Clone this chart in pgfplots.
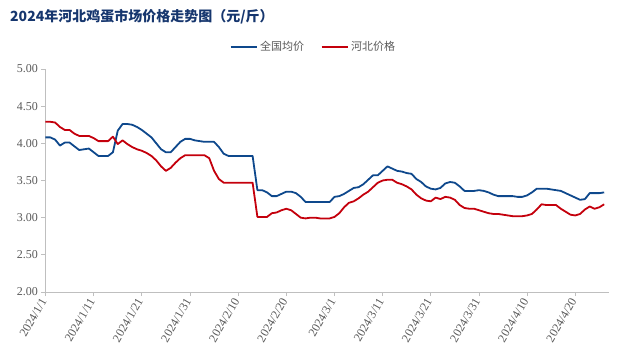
\documentclass[border=0pt]{standalone}
\usepackage{pgfplots}
\pgfplotsset{compat=1.18}
\usepackage{fontspec}
\setmainfont{Liberation Serif}
\newfontfamily\cjk{Noto Sans CJK SC}
\definecolor{cblue}{RGB}{14,72,140}
\definecolor{cred}{RGB}{196,0,12}
\definecolor{ctitle}{RGB}{22,54,110}
\definecolor{caxis}{RGB}{191,191,191}
\definecolor{ctext}{RGB}{89,89,89}
\begin{document}
\begin{tikzpicture}
\begin{axis}[
  scale only axis,
  width=563.5pt, height=223pt,
  at={(0,0)}, anchor=south west,
  xmin=0, xmax=117,
  ymin=2, ymax=5,
  axis x line=bottom, axis y line=left,
  axis line style={caxis, line width=0.8pt, -},
  tick style={caxis, line width=0.8pt},
  tick align=outside,
  major tick length=4pt,
  xtick={0,10,...,110},
  xticklabels={2024/1/1,2024/1/11,2024/1/21,2024/1/31,2024/2/10,2024/2/20,2024/3/1,2024/3/11,2024/3/21,2024/3/31,2024/4/10,2024/4/20},
  x tick label style={rotate=60, anchor=east, font=\fontsize{12}{12}\selectfont, text=ctext},
  ytick={2,2.5,3,3.5,4,4.5,5},
  y tick label style={font=\fontsize{12}{12}\selectfont, text=ctext},
  yticklabel style={/pgf/number format/fixed, /pgf/number format/precision=2, /pgf/number format/fixed zerofill},
  /pgf/number format/assume math mode=true,
  legend style={at={(0.475,1.099)}, anchor=center, draw=none, fill=none,
    font=\cjk\fontsize{11}{11}\selectfont, text=ctext, column sep=1pt,
    /tikz/column 2/.style={column sep=15pt},
    nodes={inner xsep=1.5pt}},
  legend columns=2,
  legend image code/.code={\draw[#1, line width=2pt] (0pt,0pt) -- (26pt,0pt);},
  clip=false,
]
\addplot[cblue, line width=1.8pt, line join=round] table {
0 4.08
1 4.08
2 4.05
3 3.97
4 4.01
5 4.01
6 3.96
7 3.91
8 3.92
9 3.93
10 3.88
11 3.83
12 3.83
13 3.83
14 3.88
15 4.17
16 4.26
17 4.26
18 4.25
19 4.22
20 4.18
21 4.13
22 4.08
23 4.00
24 3.92
25 3.88
26 3.88
27 3.95
28 4.02
29 4.06
30 4.06
31 4.04
32 4.03
33 4.02
34 4.02
35 4.02
36 3.95
37 3.86
38 3.83
39 3.83
40 3.83
41 3.83
42 3.83
43 3.83
44 3.37
45 3.37
46 3.34
47 3.29
48 3.29
49 3.32
50 3.35
51 3.35
52 3.33
53 3.28
54 3.21
55 3.21
56 3.21
57 3.21
58 3.21
59 3.21
60 3.28
61 3.29
62 3.32
63 3.36
64 3.40
65 3.41
66 3.45
67 3.51
68 3.57
69 3.57
70 3.63
71 3.69
72 3.66
73 3.63
74 3.62
75 3.60
76 3.59
77 3.52
78 3.48
79 3.42
80 3.39
81 3.38
82 3.40
83 3.46
84 3.48
85 3.47
86 3.42
87 3.36
88 3.36
89 3.36
90 3.37
91 3.36
92 3.34
93 3.31
94 3.29
95 3.29
96 3.29
97 3.29
98 3.28
99 3.28
100 3.30
101 3.34
102 3.39
103 3.39
104 3.39
105 3.38
106 3.37
107 3.36
108 3.33
109 3.30
110 3.27
111 3.24
112 3.25
113 3.33
114 3.33
115 3.33
116 3.34
};
\addlegendentry{全国均价}
\addplot[cred, line width=1.8pt, line join=round] table {
0 4.29
1 4.29
2 4.28
3 4.22
4 4.18
5 4.18
6 4.13
7 4.10
8 4.10
9 4.10
10 4.07
11 4.03
12 4.03
13 4.03
14 4.09
15 3.99
16 4.04
17 3.99
18 3.95
19 3.92
20 3.90
21 3.87
22 3.83
23 3.77
24 3.69
25 3.63
26 3.67
27 3.74
28 3.80
29 3.84
30 3.84
31 3.84
32 3.84
33 3.84
34 3.80
35 3.63
36 3.52
37 3.47
38 3.47
39 3.47
40 3.47
41 3.47
42 3.47
43 3.47
44 3.01
45 3.01
46 3.01
47 3.06
48 3.07
49 3.10
50 3.12
51 3.10
52 3.05
53 3.00
54 2.99
55 3.00
56 3.00
57 2.99
58 2.99
59 2.99
60 3.01
61 3.06
62 3.14
63 3.20
64 3.22
65 3.26
66 3.31
67 3.35
68 3.41
69 3.47
70 3.50
71 3.51
72 3.51
73 3.47
74 3.45
75 3.42
76 3.38
77 3.31
78 3.26
79 3.23
80 3.22
81 3.27
82 3.25
83 3.28
84 3.27
85 3.24
86 3.17
87 3.13
88 3.12
89 3.12
90 3.10
91 3.08
92 3.06
93 3.05
94 3.05
95 3.04
96 3.03
97 3.02
98 3.02
99 3.02
100 3.03
101 3.05
102 3.11
103 3.18
104 3.17
105 3.17
106 3.17
107 3.12
108 3.08
109 3.04
110 3.03
111 3.05
112 3.11
113 3.15
114 3.12
115 3.14
116 3.18
};
\addlegendentry{河北价格}
\end{axis}
\node[anchor=west, inner sep=0pt, text=ctitle, font=\cjk\bfseries\fontsize{14}{14}\selectfont] at (-35.5pt,275pt) {2024年河北鸡蛋市场价格走势图（元/斤）};
\pgfresetboundingbox
\path[use as bounding box] (-45.5pt,-65pt) rectangle (579.5pt,292pt);
\end{tikzpicture}
\end{document}
